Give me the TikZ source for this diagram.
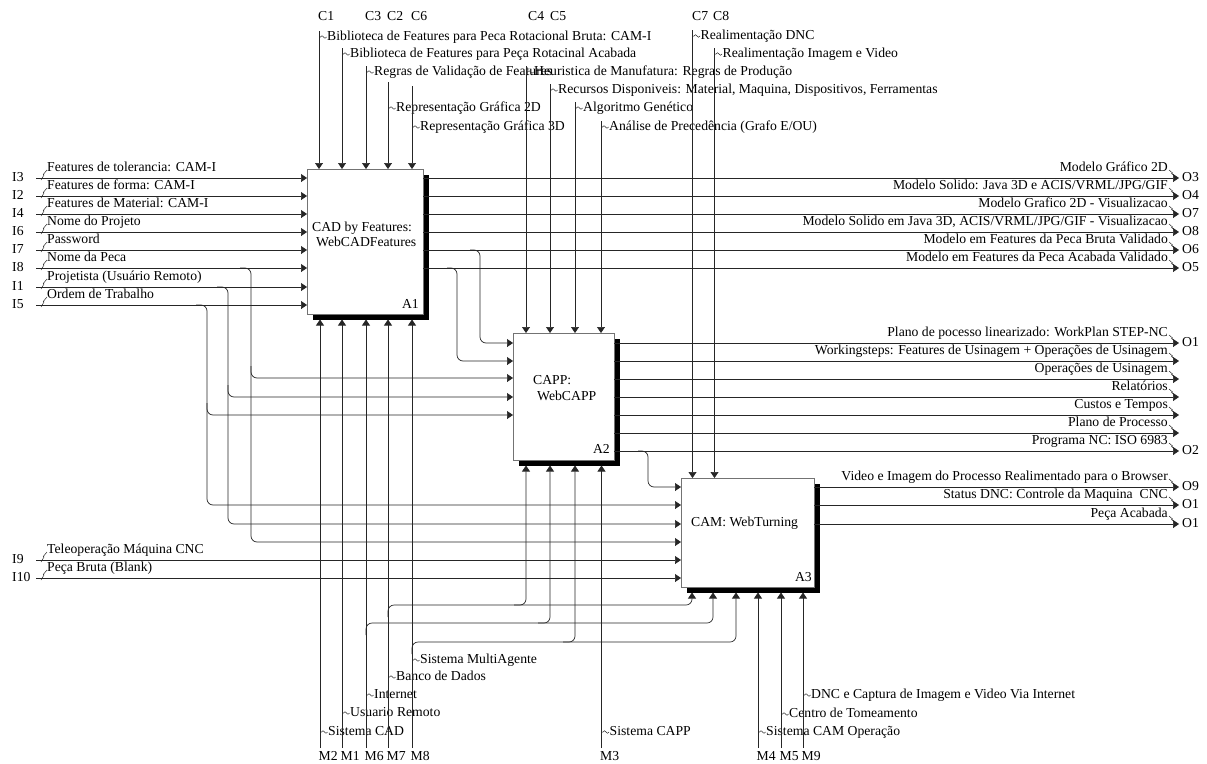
\documentclass[tikz,border=0pt]{standalone}
\usepackage{fontspec}
\setmainfont{Liberation Serif}
\usetikzlibrary{arrows.meta,shadows,calc}

% input arrow: name, y, I-label, text, target box
\newcommand\IDin[5]{%
  \coordinate (#1) at (36,#2);
  \node[lbl] (#1n) at (12,#2) {#3};
  \node[lbl] (#1t) at (47,#2-10.5) {#4};
  \draw[sq] (41,#2+2) -- (44,#2-3) -- (43.3,#2-3.6) -- (47,#2-8);
  \draw[arr] (#1) -- (#1 -| #5.west);
}
% output arrow: name, source box, y, text, O-label
\newcommand\IDout[5]{%
  \coordinate (#1) at (1179,#3);
  \node[rlbl] (#1t) at (1168,#3-10.5) {#4};
  \node[lbl] (#1n) at (1182,#3) {#5};
  \draw[sq] (1169,#3-8) -- (1172.5,#3-5) -- (1171.6,#3-4.4) -- (1175.5,#3-1.5);
  \draw[arr] (#1 -| #2.east) -- (#1);
}
% control arrow: name, x, top of line, label y, text, target box
\newcommand\IDctl[6]{%
  \coordinate (#1) at (#2,#3);
  \node[lbl] (#1t) at (#2+8,#4) {#5};
  \draw[sq] (#2,#4) -- ++(1.5,0) sin ++(1.5,-1.3) cos ++(1.5,1.3) sin ++(1.5,1.3) cos ++(1.5,-1.3);
  \draw[arr] (#1) -- (#1 |- #6.north);
}
% mechanism arrow: name, x, label y, text, M-label, target box
\newcommand\IDmec[6]{%
  \coordinate (#1) at (#2,748);
  \node[lbl] (#1t) at (#2+8,#3) {#4};
  \node[lbl] (#1n) at (#2-1.5,757) {#5};
  \draw[sq] (#2,#3) -- ++(1.5,0) sin ++(1.5,-1.3) cos ++(1.5,1.3) sin ++(1.5,1.3) cos ++(1.5,-1.3);
  \draw[arr] (#1) -- (#1 |- #6b);
}

\begin{document}
\begin{tikzpicture}[x=1pt,y=-1pt,
  font=\fontsize{13.7}{15.5}\selectfont,
  ln/.style={draw=black!85, line width=0.7pt},
  arr/.style={ln, rounded corners=6pt, -{Triangle[length=6pt,width=8pt]}},
  box/.style={draw=black!55, fill=white, line width=0.7pt, anchor=north west,
    inner sep=0pt, outer sep=0pt,
    drop shadow={shadow xshift=5.5pt, shadow yshift=-5.5pt, opacity=1, fill=black}},
  boxtxt/.style={inner sep=0pt, anchor=west, align=left},
  lbl/.style={inner sep=0pt, anchor=west, text height=9.5pt, text depth=2.5pt},
  rlbl/.style={lbl, anchor=east},
  sq/.style={draw=black!85, line width=0.5pt}
]
\useasboundingbox (0,0) rectangle (1207,763);

% activity boxes
\node[box, minimum width=116pt, minimum height=145pt] (A1) at (307,169) {};
\node[box, minimum width=101pt, minimum height=127pt] (A2) at (513,333) {};
\node[box, minimum width=133pt, minimum height=109pt] (A3) at (681,478) {};
\coordinate (A1b) at ($(A1.south)+(0,5.5)$);
\coordinate (A2b) at ($(A2.south)+(0,5.5)$);
\coordinate (A3b) at ($(A3.south)+(0,5.5)$);

\node[boxtxt] (A1t) at (312,234.5) {CAD by Features:\\\hspace{4pt}WebCADFeatures};
\node[boxtxt] (A2t) at (533,388) {CAPP:\\\hspace{4pt}WebCAPP};
\node[boxtxt] (A3t) at (691,523) {CAM: WebTurning};
\node[lbl, anchor=east] (A1id) at (419,305) {A1};
\node[lbl, anchor=east] (A2id) at (610,450) {A2};
\node[lbl, anchor=east] (A3id) at (812,578) {A3};

% inputs
\IDin{i3}{178}{I3}{Features de tolerancia: CAM-I}{A1}
\IDin{i2}{196}{I2}{Features de forma: CAM-I}{A1}
\IDin{i4}{214}{I4}{Features de Material: CAM-I}{A1}
\IDin{i6}{232}{I6}{Nome do Projeto}{A1}
\IDin{i7}{250}{I7}{Password}{A1}
\IDin{i8}{268}{I8}{Nome da Peca}{A1}
\IDin{i1}{287}{I1}{Projetista (Usuário Remoto)}{A1}
\IDin{i5}{305}{I5}{Ordem de Trabalho}{A1}
\IDin{i9}{560}{I9}{Teleoperação Máquina CNC}{A3}
\IDin{i10}{578}{I10}{Peça Bruta (Blank)}{A3}

% input branches to A2 and A3
\draw[arr] (240,268) -- (251,268) -- (251,542) -- (251,542 -| A3.west);
\draw[arr] (251,366) -- (251,378) -- (251,378 -| A2.west);
\draw[arr] (217,287) -- (228,287) -- (228,524) -- (228,524 -| A3.west);
\draw[arr] (228,385) -- (228,397) -- (228,397 -| A2.west);
\draw[arr] (196,305) -- (207,305) -- (207,505) -- (207,505 -| A3.west);
\draw[arr] (207,403) -- (207,415) -- (207,415 -| A2.west);

% outputs
\IDout{o3}{A1}{178}{Modelo Gráfico 2D}{O3}
\IDout{o4}{A1}{196}{Modelo Solido: Java 3D e ACIS/VRML/JPG/GIF}{O4}
\IDout{o7}{A1}{214}{Modelo Grafico 2D - Visualizacao}{O7}
\IDout{o8}{A1}{232}{Modelo Solido em Java 3D, ACIS/VRML/JPG/GIF - Visualizacao}{O8}
\IDout{o6}{A1}{250}{Modelo em Features da Peca Bruta Validado}{O6}
\IDout{o5}{A1}{268}{Modelo em Features da Peca Acabada Validado}{O5}
\IDout{o1a}{A2}{343}{Plano de pocesso linearizado: WorkPlan STEP-NC}{O1}
\IDout{w1}{A2}{361}{Workingsteps: Features de Usinagem + Operações de Usinagem}{}
\IDout{w2}{A2}{379}{Operações de Usinagem}{}
\IDout{w3}{A2}{397}{Relatórios}{}
\IDout{w4}{A2}{415}{Custos e Tempos}{}
\IDout{w5}{A2}{433}{Plano de Processo}{}
\IDout{o2}{A2}{451}{Programa NC: ISO 6983}{O2}
\IDout{o9}{A3}{487}{Video e Imagem do Processo Realimentado para o Browser}{O9}
\IDout{o1b}{A3}{505}{Status DNC: Controle da Maquina\ \ CNC}{O1}
\IDout{o1c}{A3}{524}{Peça Acabada}{O1}

% outputs feeding next activities
\draw[arr] (470,250) -- (480,250) -- (480,343) -- (480,343 -| A2.west);
\draw[arr] (447,268) -- (457,268) -- (457,361) -- (457,361 -| A2.west);
\draw[arr] (638,451) -- (648,451) -- (648,487) -- (648,487 -| A3.west);

% controls
\node[lbl] (C1) at (318,17) {C1};
\node[lbl] (C3) at (365,17) {C3};
\node[lbl] (C2) at (387,17) {C2};
\node[lbl] (C6) at (411,17) {C6};
\node[lbl] (C4) at (528,17) {C4};
\node[lbl] (C5) at (550,17) {C5};
\node[lbl] (C7) at (692,17) {C7};
\node[lbl] (C8) at (713,17) {C8};
\IDctl{c1}{319}{31}{37}{Biblioteca de Features para Peca Rotacional Bruta: CAM-I}{A1}
\IDctl{c0}{342}{48}{54}{Biblioteca de Features para Peça Rotacinal Acabada}{A1}
\IDctl{c3}{366}{66}{72}{Regras de Validação de Features}{A1}
\IDctl{c2}{388}{82}{108}{Representação Gráfica 2D}{A1}
\IDctl{c6}{412}{86}{127}{Representação Gráfica 3D}{A1}
\IDctl{c4}{526}{66}{72}{Heuristica de Manufatura: Regras de Produção}{A2}
\IDctl{c5}{550}{84}{90}{Recursos Disponiveis: Material, Maquina, Dispositivos, Ferramentas}{A2}
\IDctl{ca}{575}{102}{108}{Algoritmo Genético}{A2}
\IDctl{cb}{601}{121}{127}{Análise de Precedência (Grafo E/OU)}{A2}
\IDctl{c7}{692.5}{30}{36}{Realimentação DNC}{A3}
\IDctl{c8}{714.5}{48}{54}{Realimentação Imagem e Video}{A3}

% mechanisms
\IDmec{m2}{320}{732}{Sistema CAD}{M2}{A1}
\IDmec{m1}{342}{713}{Usuario Remoto}{M1}{A1}
\IDmec{m6}{366}{695}{Internet}{M6}{A1}
\IDmec{m7}{388}{677}{Banco de Dados}{M7}{A1}
\IDmec{m8}{412}{660}{Sistema MultiAgente}{M8}{A1}
\IDmec{m3}{601.5}{732}{Sistema CAPP}{M3}{A2}
\IDmec{m4}{758}{732}{Sistema CAM Operação}{M4}{A3}
\IDmec{m5}{781}{714}{Centro de Tomeamento}{M5}{A3}
\IDmec{m9}{803}{695}{DNC e Captura de Imagem e Video Via Internet}{M9}{A3}

% mechanism branches to A2 and A3
\draw[arr] (388,617) -- (388,605) -- (692,605) -- (692,605 |- A3b);
\draw[arr] (514,605) -- (526,605) -- (526,605 |- A2b);
\draw[arr] (366,635) -- (366,623) -- (713,623) -- (713,623 |- A3b);
\draw[arr] (538,623) -- (550,623) -- (550,623 |- A2b);
\draw[arr] (412,654) -- (412,642) -- (736,642) -- (736,642 |- A3b);
\draw[arr] (563,642) -- (575,642) -- (575,642 |- A2b);
\end{tikzpicture}
\end{document}
